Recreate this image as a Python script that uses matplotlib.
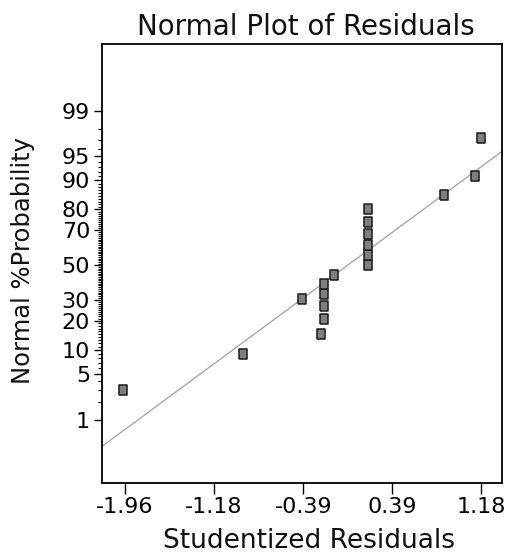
import numpy as np
import matplotlib
matplotlib.use("Agg")
import matplotlib.pyplot as plt
from statistics import NormalDist

plt.rcParams['font.family'] = ['DejaVu Sans']

# Data
residuals = [-1.975, -0.917, -0.405, -0.232, -0.208, -0.208, -0.208, -0.208,
             -0.123, 0.18, 0.18, 0.18, 0.18, 0.18, 0.18, 0.847, 1.12, 1.18]
probability = [3.0, 9.1, 30.5, 15.0, 21.0, 27.0, 33.0, 39.0,
               44.0, 50.0, 56.0, 62.0, 68.0, 74.0, 80.0, 85.5, 91.0, 97.2]
line_x = [-2.163, 1.373]
line_p = [0.317, 95.8]
x_ticks = [-1.96, -1.18, -0.39, 0.39, 1.18]
x_tick_labels = ["-1.96", "-1.18", "-0.39", "0.39", "1.18"]
y_ticks = [1, 5, 10, 20, 30, 50, 70, 80, 90, 95, 99]
y_minor = [p for p in range(1, 100) if p not in y_ticks]

nd = NormalDist()

def z(p_list):
    # normal-probability transform (percent -> normal score)
    return [nd.inv_cdf(p / 100.0) for p in p_list]

fig = plt.figure(figsize=(5.07, 5.55), dpi=100)
ax = fig.add_axes([0.201, 0.1297, 0.789, 0.791])

ax.plot(line_x, z(line_p), color='#a8a8a8', lw=1.0, zorder=1)
rect = [(-0.8, -1), (0.8, -1), (0.8, 1), (-0.8, 1), (-0.8, -1)]
ax.plot(residuals, z(probability), linestyle='none', marker=rect, markersize=6.8,
        markerfacecolor='#7f7f7f', markeredgecolor='#1a1a1a', markeredgewidth=1.1, zorder=3)

ax.set_xlim(-2.163, 1.36)
ax.set_ylim(-3.28, 3.33)

ax.set_xticks(x_ticks, labels=x_tick_labels)
ax.set_yticks(z(y_ticks), labels=[str(t) for t in y_ticks])
ax.set_yticks(z(y_minor), minor=True)
ax.xaxis.set_minor_locator(matplotlib.ticker.NullLocator())
ax.yaxis.remove_overlapping_locs = False

ax.tick_params(axis='x', which='major', direction='out', length=8, width=1.0, labelsize=16, pad=2)
ax.tick_params(axis='y', which='major', direction='out', length=6, width=1.0, labelsize=16, pad=2.5)
ax.tick_params(axis='y', which='minor', direction='out', length=3.2, width=0.8)

for s in ax.spines.values():
    s.set_linewidth(1.3)

fig.text(0.604, 0.937, "Normal Plot of Residuals", ha='center', va='baseline', fontsize=20, color='#111111')
fig.text(0.609, 0.0126, "Studentized Residuals", ha='center', va='baseline', fontsize=19, color='#111111')
fig.text(0.045, 0.530, "Normal %Probability", ha='center', va='center', rotation=90, fontsize=17.5, color='#111111')

fig.savefig("out.png", dpi=100)
